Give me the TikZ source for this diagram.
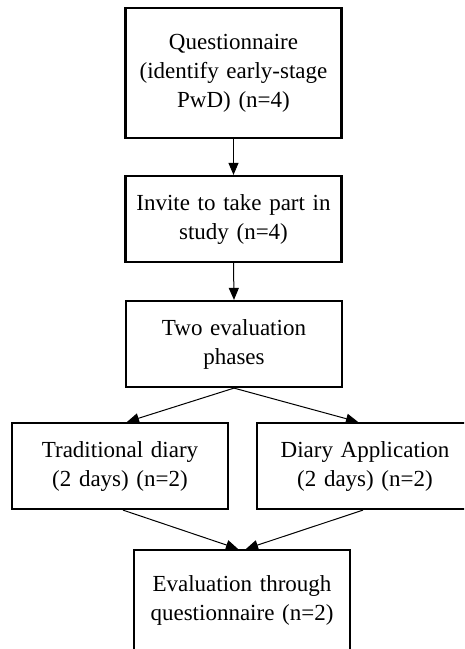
\documentclass[tikz,border=0pt]{standalone}
\usepackage{fontspec}
\setmainfont{Liberation Serif}
\usetikzlibrary{arrows.meta}
\begin{document}
\begin{tikzpicture}[x=1pt,y=-1pt,
  box/.style={draw=black, line width=2.2pt, fill=white, minimum width=216pt, text width=210pt,
    align=center, inner sep=0pt, font=\fontsize{23}{29}\selectfont},
  conn/.style={draw=black, line width=1pt, -{Triangle[length=12pt,width=10pt]}}]
\useasboundingbox (0,0) rectangle (464,649);
\clip (0,0) rectangle (464,649);
\fill[white] (0,0) rectangle (464,649);
\node[box, minimum height=130pt] (q) at (233.5,73) {Questionnaire\\(identify early-stage\\PwD) (n=4)};
\node[box, minimum height=86pt] (inv) at (233.5,219) {Invite to take part in\\study (n=4)};
\node[box, minimum height=86pt] (two) at (234,344) {Two evaluation\\phases};
\node[box, minimum height=86pt] (trad) at (120,466) {Traditional diary\\(2 days) (n=2)};
\node[box, minimum height=86pt] (app) at (365,466) {Diary Application\\(2 days) (n=2)};
\node[box, minimum height=100pt] (eval) at (242,600) {Evaluation through\\questionnaire (n=2)};
\draw[conn] (q.south) -- (inv.north);
\draw[conn] (inv.south) -- (two.north);
\draw[conn] (two.south) -- ([xshift=7pt]trad.north);
\draw[conn] (two.south) -- ([xshift=-7pt]app.north);
\draw[conn] ([xshift=3pt]trad.south) -- ([xshift=-4pt]eval.north);
\draw[conn] ([xshift=-2pt]app.south) -- ([xshift=4pt]eval.north);
\end{tikzpicture}
\end{document}
